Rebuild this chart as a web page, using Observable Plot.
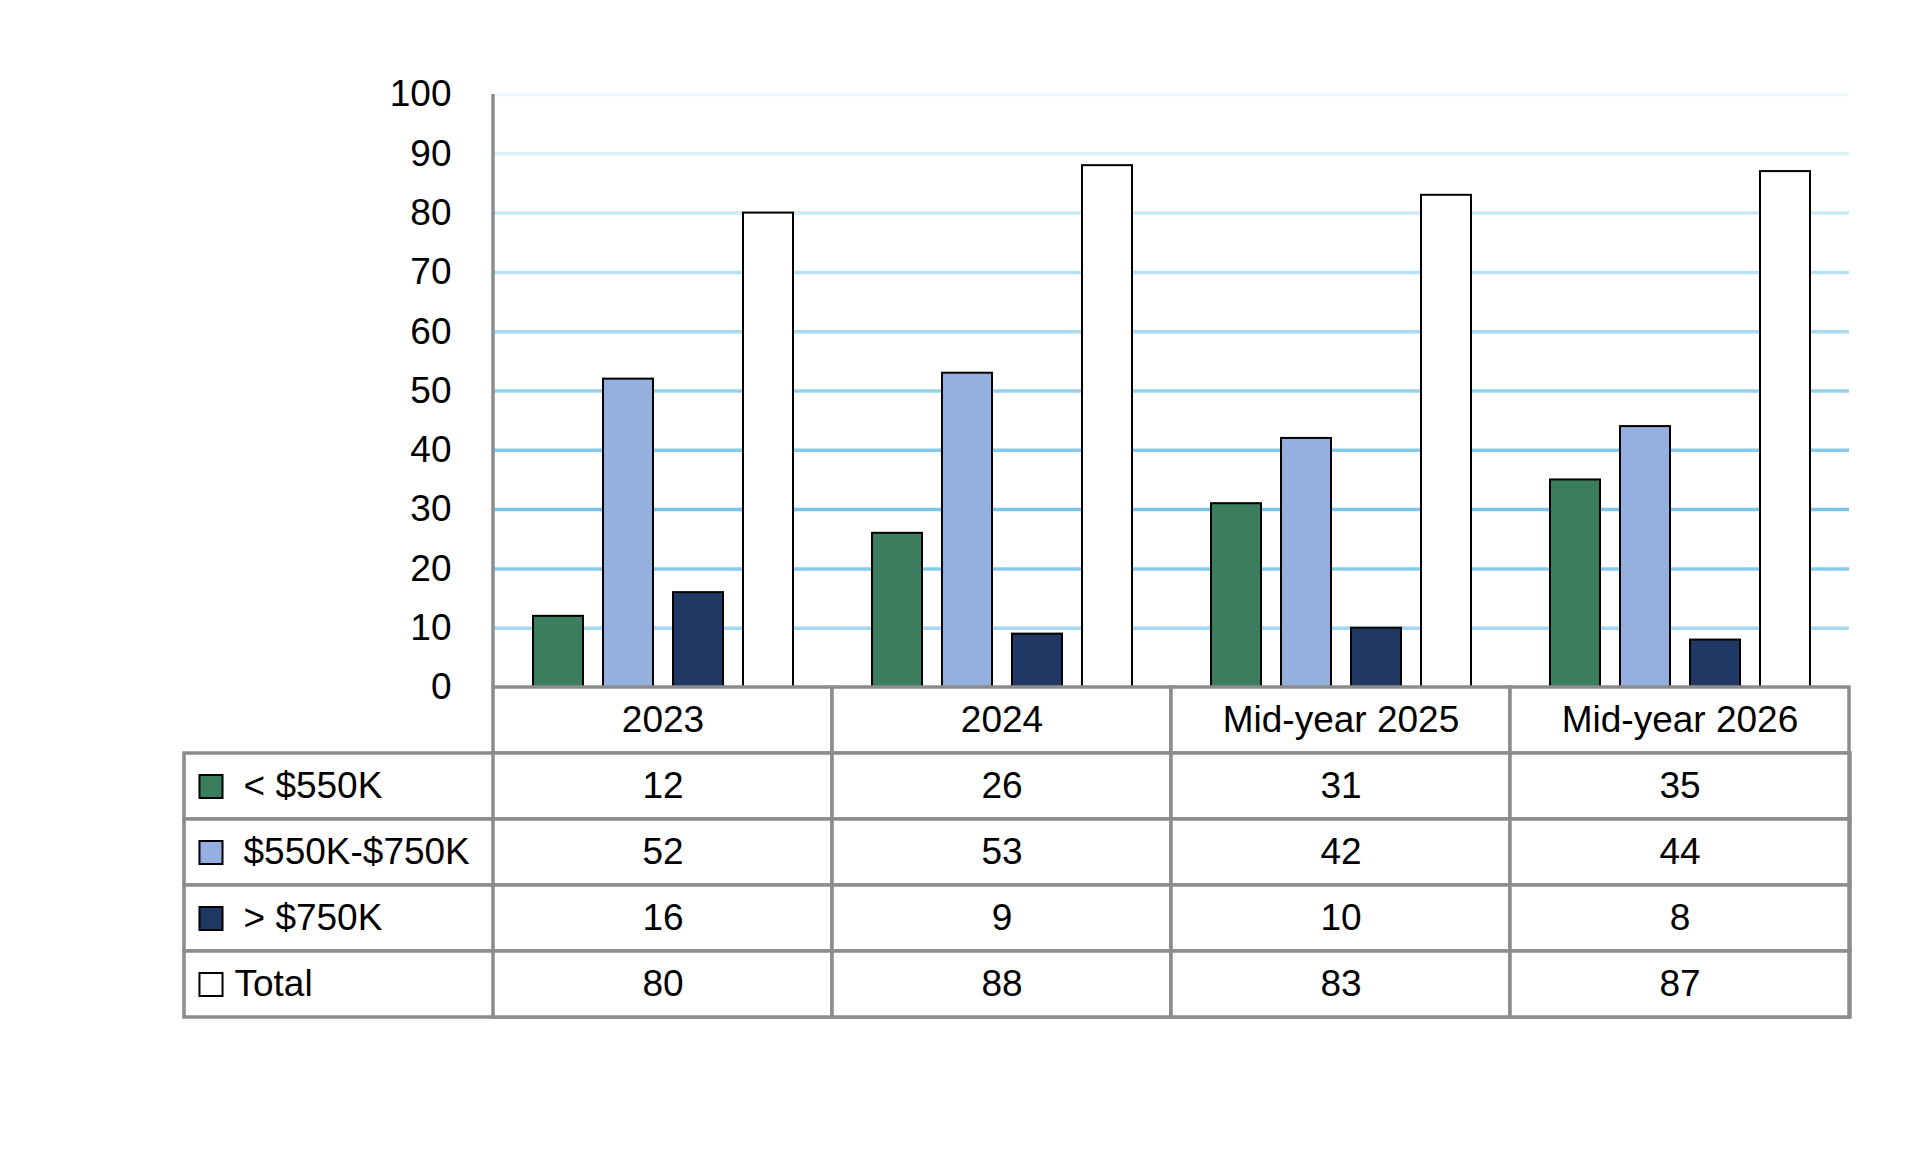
<!DOCTYPE html>
<html>
<head>
<meta charset="utf-8">
<script src="https://cdn.jsdelivr.net/npm/d3@7"></script>
<script src="https://cdn.jsdelivr.net/npm/@observablehq/plot@0.6"></script>
<style>
  html, body { margin: 0; padding: 0; background: white; }
  #wrap { width: 1920px; height: 1150px; overflow: hidden; }
  #wrap svg { display: block; }
  #chart svg { overflow: visible; position: relative; z-index: 0; }
  #table svg { margin-top: -4px; position: relative; z-index: 1; }
</style>
</head>
<body>
<div id="wrap">
  <div id="chart"></div>
  <div id="table"></div>
</div>
<script>
// ---- data ----
const categories = ["2023", "2024", "Mid-year 2025", "Mid-year 2026"];
const seriesNames = ["< $550K", "$550K-$750K", "> $750K", "Total"];
const seriesColors = ["#3a7d5f", "#95b0de", "#203864", "#ffffff"];
const lowValues = [12, 26, 31, 35];
const midValues = [52, 53, 42, 44];
const highValues = [16, 9, 10, 8];
const totalValues = [80, 88, 83, 87];
const yTicks = [0, 10, 20, 30, 40, 50, 60, 70, 80, 90, 100];
const gridTicks = [10, 20, 30, 40, 50, 60, 70, 80, 90, 100];
const gridColors = ["#a2d8f1", "#86cbec", "#7ac5e9", "#86cbec", "#96d2ef", "#a8daf2", "#b8e1f4", "#cae8f7", "#dcf0fa", "#eef7fc"];

const seriesValues = [lowValues, midValues, highValues, totalValues];
const barData = [];
seriesNames.forEach((s, si) => {
  categories.forEach((c, ci) => {
    barData.push({category: c, series: s, value: seriesValues[si][ci]});
  });
});

const FONT = "'Liberation Sans', Arial, sans-serif";
const GRAY = "#8c8c8c";

// ---- chart ----
const chart = Plot.plot({
  width: 1920,
  height: 689,
  marginTop: 94,
  marginBottom: 2,
  marginLeft: 491,
  marginRight: 70,
  style: {fontFamily: FONT, fontSize: "37px", color: "black", background: "transparent", overflow: "visible"},
  fx: {domain: categories, padding: 0, axis: null},
  x: {domain: seriesNames, paddingInner: 0.29, paddingOuter: 0.55, axis: null},
  y: {domain: [0, 100], axis: null},
  color: {domain: seriesNames, range: seriesColors},
  marks: [
    ...gridTicks.map((t, i) => Plot.ruleY([t], {y: d => d, stroke: gridColors[i], strokeWidth: 3.5})),
    Plot.barY(barData, {fx: "category", x: "series", y: "value", fill: "series", stroke: "black", strokeWidth: 2}),
    Plot.axisY({ticks: yTicks, tickSize: 0, tickPadding: 42, fontSize: 37, label: null})
  ]
});
// vertical axis line placed from the plot's own scales
{
  const fx = chart.scale("fx");
  const ys = chart.scale("y");
  const x0 = fx.apply(categories[0]);
  d3.select(chart).append("line")
    .attr("x1", x0).attr("x2", x0)
    .attr("y1", ys.apply(100)).attr("y2", ys.apply(0))
    .attr("stroke", GRAY).attr("stroke-width", 3.5);
}
document.getElementById("chart").appendChild(chart);

// ---- table ----
const rowKeys = ["header", ...seriesNames];
const tableCells = [];
rowKeys.forEach(r => categories.forEach(c => tableCells.push({row: r, category: c})));

const table = Plot.plot({
  width: 1920,
  height: 340,
  marginTop: 2,
  marginBottom: 8,
  marginLeft: 184,
  marginRight: 70,
  style: {fontFamily: FONT, fontSize: "37px", color: "black", background: "transparent"},
  x: {type: "band", domain: categories, range: [491, 1850], padding: 0, axis: null},
  y: {type: "band", domain: rowKeys, padding: 0, axis: null},
  color: {domain: seriesNames, range: seriesColors},
  marks: [
    Plot.cell(seriesNames, {y: d => d, fill: "white", stroke: GRAY, strokeWidth: 3.5}),
    Plot.cell(tableCells, {x: "category", y: "row", fill: "white", stroke: GRAY, strokeWidth: 3.5}),
    Plot.text(categories, {x: d => d, y: () => "header", text: d => d, fontSize: 37}),
    Plot.text(barData, {x: "category", y: "series", text: d => String(d.value), fontSize: 37}),
    Plot.dot(seriesNames, {y: d => d, frameAnchor: "left", dx: 26.5, symbol: "square", r: 13, fill: d => d, stroke: "black", strokeWidth: 2}),
    Plot.text(seriesNames.slice(0, 3), {y: d => d, text: d => d, frameAnchor: "left", textAnchor: "start", dx: 59, fontSize: 37}),
    Plot.text(seriesNames.slice(3), {y: d => d, text: d => d, frameAnchor: "left", textAnchor: "start", dx: 50, fontSize: 37})
  ]
});
document.getElementById("table").appendChild(table);
</script>
</body>
</html>
